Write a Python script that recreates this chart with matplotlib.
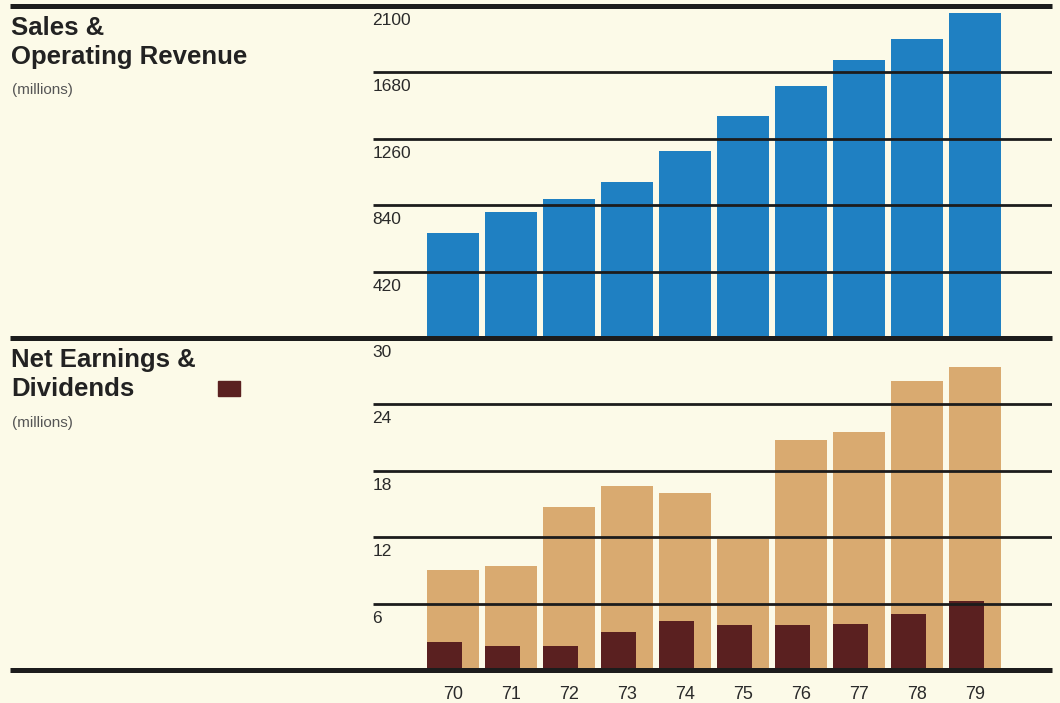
import matplotlib
matplotlib.use("Agg")
import matplotlib.pyplot as plt
import matplotlib.transforms as mtransforms

plt.rcParams['font.family'] = ['Liberation Sans', 'DejaVu Sans']

# Annual figures, 1970-1979 (millions)
years = ["70", "71", "72", "73", "74", "75", "76", "77", "78", "79"]
sales = [665, 798, 881, 988, 1185, 1406, 1596, 1761, 1894, 2053]
net_earnings = [9.0, 9.4, 14.7, 16.6, 16.0, 11.8, 20.8, 21.5, 26.1, 27.4]
dividends = [2.5, 2.2, 2.2, 3.4, 4.4, 4.1, 4.1, 4.2, 5.1, 6.2]

sales_ticks = [420, 840, 1260, 1680, 2100]
earn_ticks = [6, 12, 18, 24, 30]

BG = "#fcfae8"
BLUE = "#1f80c2"
TAN = "#d9aa70"
BROWN = "#5a2020"
INK = "#1c1c1c"

W, H = 1060, 703
fig = plt.figure(figsize=(W / 100, H / 100), dpi=100, facecolor=BG)


def px_rect(left, top, right, bottom):
    return [left / W, 1 - bottom / H, (right - left) / W, (bottom - top) / H]


ax_left, ax_right = 373, 1052
ax1 = fig.add_axes(px_rect(ax_left, 6, ax_right, 338))
ax2 = fig.add_axes(px_rect(ax_left, 338, ax_right, 670))

# 58 px per year, first bar centred at x=453
x0 = -(453 - ax_left) / 58
x1 = x0 + (ax_right - ax_left) / 58
xs = list(range(len(years)))
left_frac = (10 - ax_left) / (ax_right - ax_left)

for ax in (ax1, ax2):
    ax.set_facecolor("none")
    ax.set_xlim(x0, x1)
    for s in ax.spines.values():
        s.set_visible(False)
    ax.tick_params(left=False, labelleft=False, bottom=False, labelbottom=False)

ax1.set_ylim(0, 2100)
ax2.set_ylim(0, 30)

ax1.bar(xs, sales, width=0.9, color=BLUE, zorder=1)
ax2.bar(xs, net_earnings, width=0.9, color=TAN, zorder=1)
ax2.bar([x - 0.45 for x in xs], dividends, width=0.6, align="edge", color=BROWN, zorder=2)


def draw_scale(ax, ticks, top):
    trans = mtransforms.blended_transform_factory(ax.transAxes, ax.transData)
    for t in ticks:
        if t == top:
            ax.axhline(t, xmin=left_frac, xmax=1, color=INK, lw=3.6,
                       clip_on=False, zorder=5, solid_capstyle="butt")
        else:
            ax.axhline(t, xmin=0, xmax=1, color=INK, lw=2.0, zorder=5,
                       solid_capstyle="butt")
        ax.annotate(str(t), xy=(0, t), xycoords=trans, xytext=(-0.5, -5),
                    textcoords="offset points", ha="left", va="top",
                    fontsize=12.5, color="#2a2a2a", annotation_clip=False)


draw_scale(ax1, sales_ticks, 2100)
draw_scale(ax2, earn_ticks, 30)
ax2.axhline(0, xmin=left_frac, xmax=1, color=INK, lw=3.6, clip_on=False,
            zorder=5, solid_capstyle="butt")

ax2.tick_params(labelbottom=True, pad=8, labelsize=13, labelcolor="#2a2a2a")
ax2.set_xticks(xs)
ax2.set_xticklabels(years)


def ftext(x, y, s, **kw):
    fig.text(x / W, 1 - y / H, s, **kw)


ftext(11, 28, "Sales &", fontsize=18.5, fontweight="bold", color="#222222", va="center")
ftext(11, 57, "Operating Revenue", fontsize=18.5, fontweight="bold", color="#222222", va="center")
ftext(12, 90, "(millions)", fontsize=11, color="#555555", va="center")

ftext(11, 360, "Net Earnings &", fontsize=18.5, fontweight="bold", color="#222222", va="center")
ftext(11, 389, "Dividends", fontsize=18.5, fontweight="bold", color="#222222", va="center")
ftext(12, 423, "(millions)", fontsize=11, color="#555555", va="center")

fig.patches.append(plt.Rectangle((218 / W, 1 - 396 / H), 22 / W, 15 / H,
                                 transform=fig.transFigure, color=BROWN))

fig.savefig("out.png", dpi=100, facecolor=BG)
